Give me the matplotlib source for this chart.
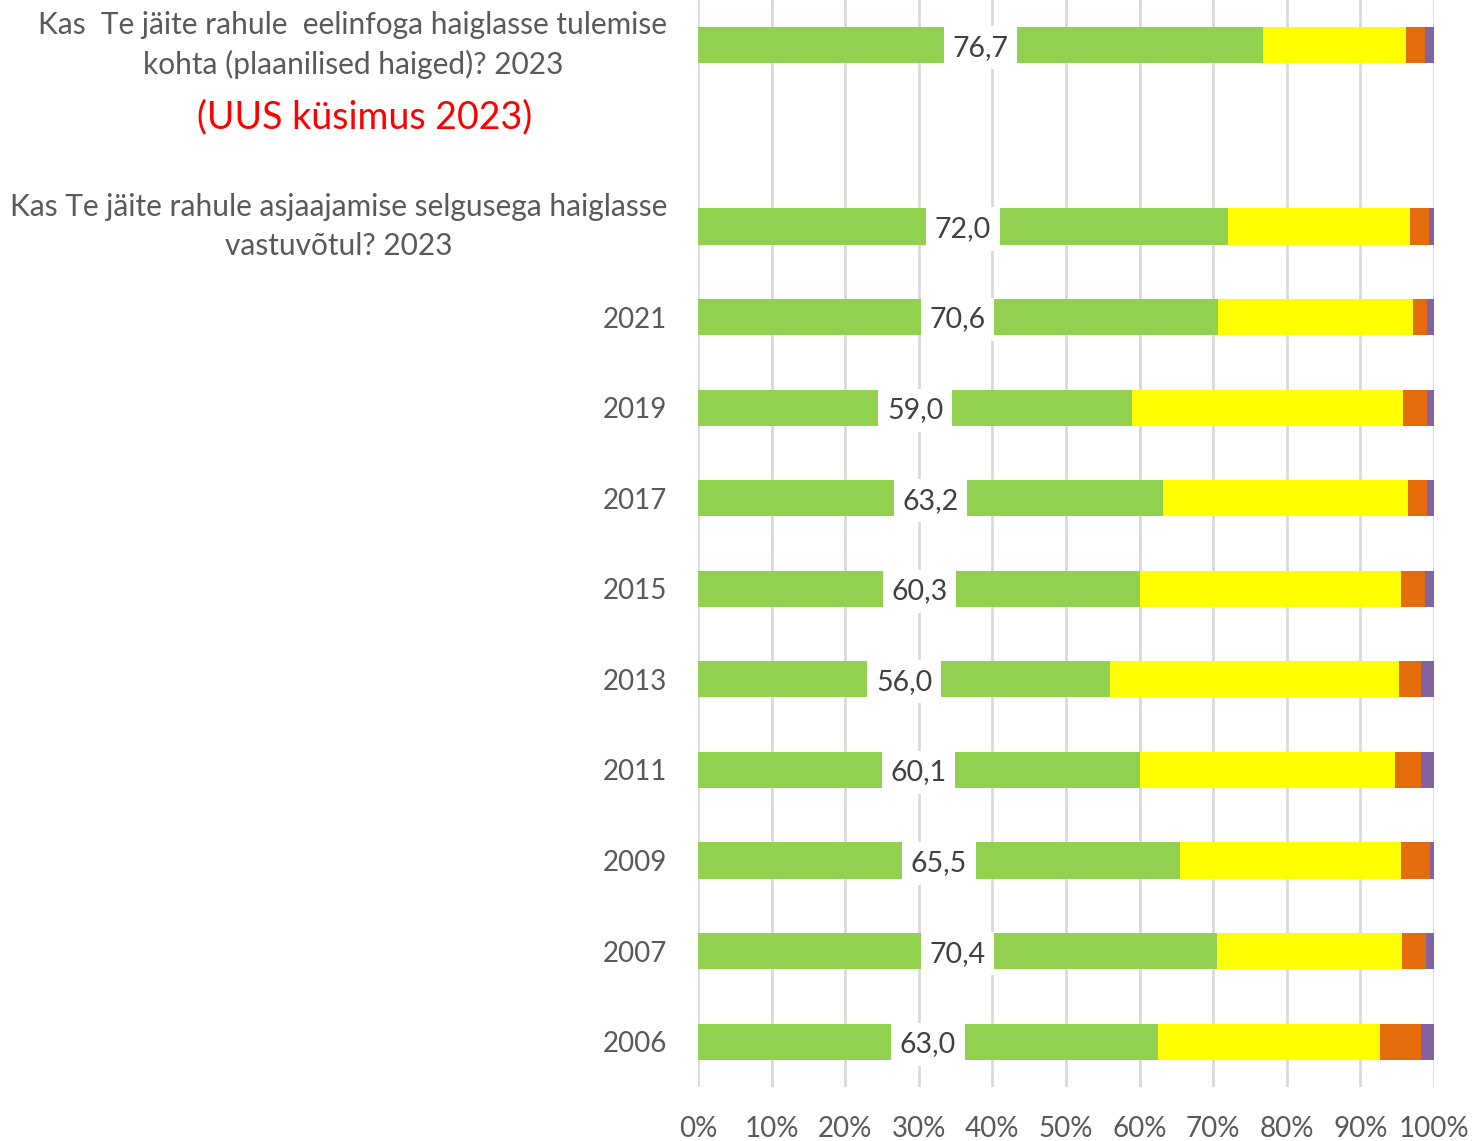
import matplotlib
matplotlib.use("Agg")
import matplotlib.pyplot as plt
import numpy as np

plt.rcParams['font.family'] = ['Lato', 'DejaVu Sans']

categories = [
    "Kas  Te jäite rahule  eelinfoga haiglasse tulemise\nkohta (plaanilised haiged)? 2023",
    "",
    "Kas Te jäite rahule asjaajamise selgusega haiglasse\nvastuvõtul? 2023",
    "2021", "2019", "2017", "2015", "2013", "2011", "2009", "2007", "2006",
]
green  = [76.7, np.nan, 72.0, 70.6, 59.0, 63.2, 60.1, 56.0, 60.0, 65.5, 70.5, 62.5]
yellow = [19.5, np.nan, 24.8, 26.6, 36.8, 33.2, 35.4, 39.3, 34.7, 30.0, 25.2, 30.2]
orange = [2.6, np.nan, 2.5, 1.9, 3.3, 2.7, 3.3, 3.0, 3.6, 4.0, 3.2, 5.6]
purple = [1.2, np.nan, 0.7, 0.9, 0.9, 0.9, 1.2, 1.7, 1.7, 0.5, 1.1, 1.7]
labels = ["76,7", "", "72,0", "70,6", "59,0", "63,2", "60,3", "56,0", "60,1", "65,5", "70,4", "63,0"]
xticks = [0, 10, 20, 30, 40, 50, 60, 70, 80, 90, 100]
note = "(UUS küsimus 2023)"

colors = ["#92D050", "#FFFF00", "#E46C0A", "#8064A2"]

W, H = 1474, 1141
fig = plt.figure(figsize=(W / 100, H / 100), dpi=100)
ax = fig.add_axes([698 / W, (H - 1087) / H, (1434 - 698) / W, 1087 / H])

y = np.arange(len(categories))
left = np.zeros(len(categories))
for vals, c in zip([green, yellow, orange, purple], colors):
    v = np.nan_to_num(np.array(vals, dtype=float))
    ax.barh(y, v, left=left, height=0.4, color=c, zorder=2, linewidth=0)
    left = left + v

g = np.nan_to_num(np.array(green, dtype=float))
for yi, gv, lab in zip(y, g, labels):
    if lab:
        ax.text(gv / 2, yi, lab, ha='center', va='center_baseline', fontsize=20.5, color='#404040',
                zorder=3, bbox=dict(boxstyle='square,pad=0.3', fc='white', ec='none'))

ax.set_xlim(0, 100)
ax.set_ylim(len(categories) - 0.5, -0.5)
ax.set_xticks(xticks)
ax.set_xticklabels([f"{t}%" for t in xticks], fontsize=20, color='#595959')
ax.set_yticks(y)
ax.set_yticklabels(categories, fontsize=20, color='#595959', multialignment='center')
for lbl in ax.get_yticklabels():
    if "\n" in lbl.get_text():
        lbl.set_fontsize(21.5)
        lbl.set_linespacing(1.45)
        lbl.set_verticalalignment('center')
ax.tick_params(axis='both', length=0)
ax.tick_params(axis='y', pad=22)
ax.tick_params(axis='x', pad=21)
ax.grid(axis='x', color='#d9d9d9', linewidth=2, zorder=0)
ax.set_axisbelow(True)
for s in ax.spines.values():
    s.set_visible(False)

fig.text(365 / W, 1 - 117 / H, note, ha='center', va='center', fontsize=27, color='#FF0000')

fig.savefig("out.png", dpi=100, facecolor='white')
